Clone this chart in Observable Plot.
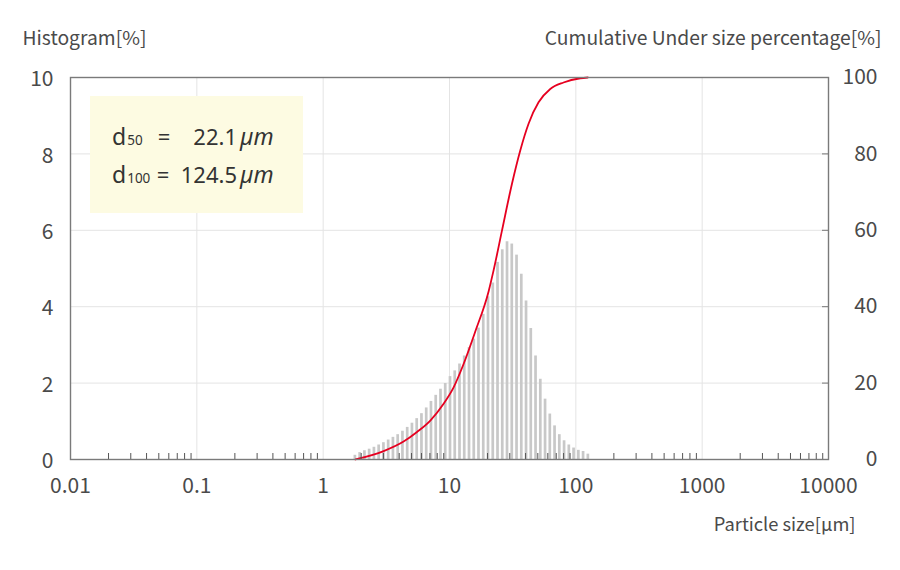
<!DOCTYPE html>
<html>
<head>
<meta charset="utf-8">
<script src="https://cdn.jsdelivr.net/npm/d3@7"></script>
<script src="https://cdn.jsdelivr.net/npm/@observablehq/plot@0.6"></script>
<style>
  html, body { margin: 0; padding: 0; background: #fff; }
  #chart { width: 900px; height: 570px; }
</style>
</head>
<body>
<div id="chart"></div>
<script>
// Particle size channels (µm) and histogram values (%)
const sizes = [1.783, 1.945, 2.121, 2.312, 2.522, 2.750, 2.999, 3.270, 3.566, 3.889,
  4.241, 4.625, 5.044, 5.500, 5.998, 6.541, 7.133, 7.778, 8.482, 9.250,
  10.09, 11.00, 12.00, 13.08, 14.27, 15.56, 16.96, 18.50, 20.17, 22.00,
  23.99, 26.16, 28.53, 31.11, 33.93, 37.00, 40.35, 44.00, 47.98, 52.33,
  57.06, 62.23, 67.86, 74.00, 80.70, 88.00, 95.96, 104.7, 114.1, 124.5];
const histogram = [0.11, 0.18, 0.23, 0.27, 0.32, 0.38, 0.44, 0.51, 0.58, 0.65,
  0.74, 0.84, 0.95, 1.07, 1.20, 1.35, 1.52, 1.68, 1.84, 1.99,
  2.17, 2.32, 2.50, 2.71, 2.93, 3.15, 3.44, 3.80, 4.26, 4.62,
  5.16, 5.49, 5.70, 5.64, 5.35, 4.85, 4.15, 3.43, 2.71, 2.10,
  1.58, 1.19, 0.88, 0.65, 0.49, 0.38, 0.30, 0.24, 0.21, 0.14];

// Cumulative under-size curve (%)
const cumSizes = [1.80, 3.01, 4.33, 5.53, 7.05, 8.98, 10.78, 12.93, 16.0, 20.39, 22.33, 26.02, 31.23, 36.32, 42.25, 50.69, 62.73, 79.9, 108.3, 124.5];
const cumPct = [0, 2.2, 4.7, 7.2, 10.2, 14.6, 18.9, 25.0, 33.5, 44.0, 49.5, 59.9, 72.2, 80.9, 87.9, 93.5, 97.0, 98.7, 99.8, 100];

// Axis ticks and labels
const xDecades = [0.01, 0.1, 1, 10, 100, 1000, 10000];
const xDecadeLabels = ["0.01", "0.1", "1", "10", "100", "1000", "10000"];
const minorMultipliers = [2, 3, 4, 5, 6, 7, 8, 9];
const yTicks = [0, 2, 4, 6, 8, 10];
const yGrid = [2, 4, 6, 8];
const yLeftLabels = ["0", "2", "4", "6", "8", "10"];
const yRightLabels = ["0", "20", "40", "60", "80", "100"];

// Texts
const leftTitle = "Histogram[%]";
const rightTitle = "Cumulative Under size percentage[%]";
const xTitle = "Particle size[µm]";
const statNames = ["d", "d"];
const statSubs = ["50", "100"];
const statValues = ["22.1", "124.5"];
const statUnit = "µm";

const histData = sizes.map((s, i) => ({size: s, pct: histogram[i]}));
const cumData = cumSizes.map((s, i) => ({size: s, pct: cumPct[i]}));
const minorTicks = xDecades.slice(0, -1).flatMap(d => minorMultipliers.map(m => +(d * m).toPrecision(3)));

const font = "'Noto Sans CJK JP', 'Noto Sans', sans-serif";
const boxFont = "'Noto Sans', sans-serif";

// Annotation box mark (render function)
function statBox(index, scales, values, dim) {
  const g = d3.create("svg:g").attr("text-anchor", "start").style("font-family", boxFont);
  const x0 = dim.marginLeft + 20, y0 = dim.marginTop + 19;
  g.append("rect").attr("x", x0).attr("y", y0).attr("width", 213).attr("height", 117).attr("fill", "#fdfbe2");
  statNames.forEach((n, i) => {
    const by = y0 + 49 + i * 38;
    const t = g.append("text").attr("x", x0 + 22).attr("y", by).attr("fill", "#333").attr("text-anchor", "start");
    t.append("tspan").attr("font-size", 23).text(n);
    t.append("tspan").attr("font-size", 13.5).attr("dx", 1).text(statSubs[i]);
    g.append("text").attr("x", x0 + (i === 0 ? 74 : 73)).attr("y", by).attr("text-anchor", "middle").attr("font-size", 22).attr("fill", "#333").text("=");
    g.append("text").attr("x", x0 + 147).attr("y", by).attr("text-anchor", "end").attr("font-size", 22).attr("fill", "#333").text(statValues[i]);
    g.append("text").attr("x", x0 + 150).attr("y", by).attr("text-anchor", "start").attr("font-size", 23).attr("font-style", "italic").attr("fill", "#333").text(statUnit);
  });
  return g.node();
}

const chart = Plot.plot({
  width: 900,
  height: 570,
  marginLeft: 70,
  marginRight: 72,
  marginTop: 77,
  marginBottom: 111,
  style: {fontFamily: font, fontSize: "21px", color: "#4a4a4a", background: "#fff"},
  x: {type: "log", domain: [0.01, 10000]},
  y: {domain: [0, 10]},
  marks: [
    Plot.gridX(xDecades, {stroke: "#e4e4e4", strokeOpacity: 1}),
    Plot.gridY(yGrid, {stroke: "#e4e4e4", strokeOpacity: 1}),
    statBox,
    Plot.ruleX(histData, {x: "size", y1: 0, y2: "pct", stroke: "#c8c8c8", strokeWidth: 2.7}),
    Plot.line(cumData, {x: "size", y: d => d.pct / 10, stroke: "#e60020", strokeWidth: 1.8, curve: "monotone-x"}),
    Plot.axisX(minorTicks, {tickSize: -6, tickFormat: () => "", stroke: "#555", label: null}),
    Plot.text(xDecades, {x: d => d, frameAnchor: "bottom", dy: 33, text: (d, i) => xDecadeLabels[i], fontSize: 21, fill: "#4a4a4a"}),
    Plot.axisY(yTicks, {anchor: "left", tickSize: 0, tickPadding: 17, dy: 2, tickFormat: (d, i) => yLeftLabels[i], label: null, fontSize: 21}),
    Plot.axisY(yTicks, {anchor: "right", tickSize: -7, tickPadding: 56, textAnchor: "end", tickFormat: (d, i) => yRightLabels[i], label: null, fontSize: 21, stroke: "#777"}),
    Plot.frame({stroke: "#7a7a7a", strokeWidth: 1.4}),
    Plot.text([leftTitle], {frameAnchor: "top-left", dx: -48, dy: -46, textAnchor: "start", fontSize: 19.3, fill: "#4a4a4a"}),
    Plot.text([rightTitle], {frameAnchor: "top-right", dx: 53, dy: -46, textAnchor: "end", fontSize: 19.3, fill: "#4a4a4a"}),
    Plot.text([xTitle], {frameAnchor: "bottom-right", dx: 27, dy: 71, textAnchor: "end", fontSize: 18.3, fill: "#4a4a4a"})
  ]
});
document.getElementById("chart").appendChild(chart);
</script>
</body>
</html>
